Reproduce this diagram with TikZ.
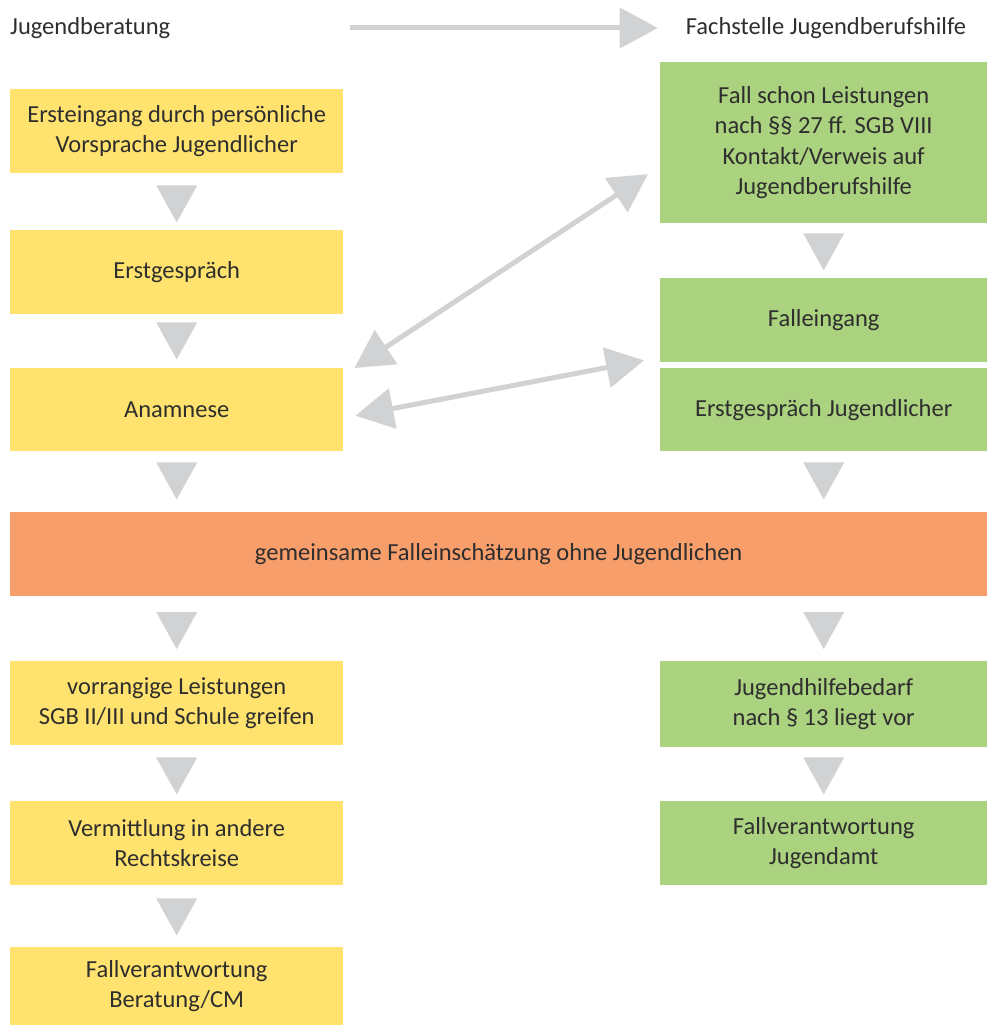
\documentclass[tikz,border=0pt]{standalone}
\usepackage{fontspec}
\setmainfont{Carlito}
\usetikzlibrary{arrows.meta,calc}
\definecolor{ygold}{HTML}{FFE36E}
\definecolor{lgreen}{HTML}{ABD27F}
\definecolor{orng}{HTML}{F89E6B}
\definecolor{agrey}{HTML}{D1D2D4}
\definecolor{txt}{HTML}{2E2E2E}
\newcommand\dtri[2]{\fill[agrey] ($(#1)+(-20.5,#2)$) -- ++(41,0) -- ++(-20.5,37) -- cycle;}
\begin{document}
\begin{tikzpicture}[x=1pt,y=-1pt,
  box/.style={anchor=north west, inner sep=0pt, align=center, text=txt, font=\fontsize{24.5}{30.5}\selectfont},
  lbox/.style={box, fill=ygold, minimum width=333pt},
  rbox/.style={box, fill=lgreen, minimum width=327pt},
  head/.style={inner sep=0pt, text=txt, font=\fontsize{24.5}{30}\selectfont},
  bigarrow/.style={draw=agrey, line width=5pt},
  tipA/.tip={Triangle[length=38pt,width=40pt]}]
\useasboundingbox (0,0) rectangle (987,1025);
% headers
\node[head, anchor=west] (h1) at (10,28) {Jugendberatung};
\node[head] (h2) at (826,28) {Fachstelle Jugendberufshilfe};
\coordinate (ha) at (350,28);
\coordinate (hb) at ($(h2.west)+(-28,0)$);
\draw[bigarrow, -{tipA}] (ha) -- (hb);
% left column
\node[lbox, minimum height=84pt] (b1) at (10,89) {Ersteingang durch persönliche\\Vorsprache Jugendlicher};
\node[lbox, minimum height=84pt] (b2) at (10,230) {Erstgespräch};
\node[lbox, minimum height=83pt] (b3) at (10,368) {Anamnese};
\node[box, fill=orng, minimum width=977pt, minimum height=84pt] (or) at (10,512) {gemeinsame Falleinschätzung ohne Jugendlichen};
\node[lbox, minimum height=84pt] (b4) at (10,661) {vorrangige Leistungen\\SGB II/III und Schule greifen};
\node[lbox, minimum height=84pt] (b5) at (10,801) {Vermittlung in andere\\Rechtskreise};
\node[lbox, minimum height=78pt] (b6) at (10,947) {Fallverantwortung\\Beratung/CM};
% right column
\node[rbox, minimum height=161pt] (g1) at (660,62) {Fall schon Leistungen\\nach §§ 27 ff. SGB VIII\\Kontakt/Verweis auf\\Jugendberufshilfe};
\node[rbox, minimum height=84pt] (g2) at (660,278) {Falleingang};
\node[rbox, minimum height=83pt] (g3) at (660,368) {Erstgespräch Jugendlicher};
\node[rbox, minimum height=86pt] (g4) at (660,661) {Jugendhilfebedarf\\nach § 13 liegt vor};
\node[rbox, minimum height=84pt] (g5) at (660,801) {Fallverantwortung\\Jugendamt};
% down triangles
\dtri{b1.south}{12}
\dtri{b2.south}{8}
\dtri{b3.south}{11}
\dtri{b4.north}{-49}
\dtri{b4.south}{12}
\dtri{b5.south}{13}
\dtri{g1.south}{10}
\dtri{g3.south}{11}
\dtri{g4.north}{-49}
\dtri{g4.south}{10}
% diagonal double arrows
\coordinate (d1a) at ($(b3.north east)+(11,0)$);
\coordinate (d1b) at ($(g1.west)+(-12,31.5)$);
\draw[bigarrow, {tipA}-{tipA}] (d1a) -- (d1b);
\coordinate (d2a) at ($(b3.east)+(12,6)$);
\coordinate (d2b) at ($(g2.south west)+(-16,-2)$);
\draw[bigarrow, {tipA}-{tipA}] (d2a) -- (d2b);
\end{tikzpicture}
\end{document}
